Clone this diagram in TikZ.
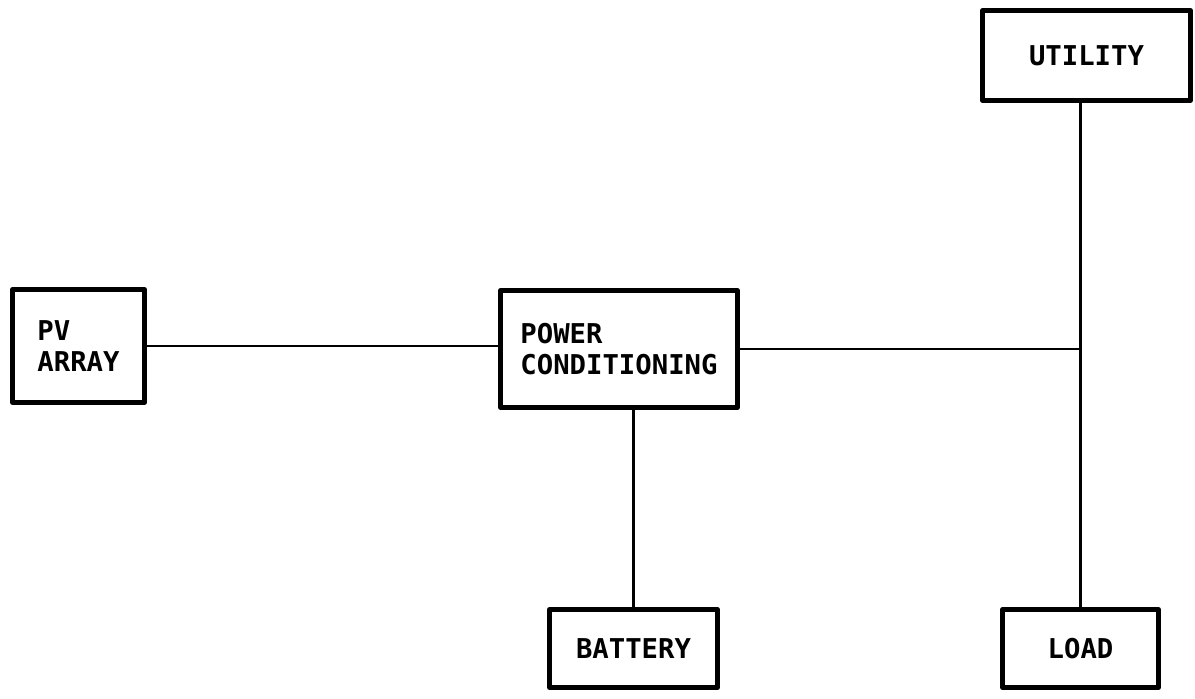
\documentclass[tikz,border=0pt]{standalone}
\usepackage{fontspec}
\setmainfont{DejaVu Sans Mono}
\usepackage{tikz}
\usetikzlibrary{positioning}

\begin{document}
\begin{tikzpicture}[
  block/.style={rectangle, draw, line width=3.4pt, line join=round, align=left, inner sep=2pt,
    font=\bfseries\fontsize{19.4}{22.5}\selectfont},
  wire/.style={line width=2pt}
]
\useasboundingbox (0,0) rectangle (29.875,17.475);
\node[block, minimum width=3.3cm, minimum height=2.825cm] (pv) at (1.9625,8.825) {PV\\ARRAY};
\node[block, minimum width=5.925cm, minimum height=2.925cm] (pc) at (15.475,8.75) {POWER\\CONDITIONING};
\node[block, minimum width=5.2cm, minimum height=2.25cm] (util) at (27.1625,16.0875) {UTILITY};
\node[block, minimum width=4.2cm, minimum height=1.95cm] (batt) at (15.8375,1.2625) {BATTERY};
\node[block, minimum width=3.9cm, minimum height=1.95cm] (load) at (27.0125,1.2625) {LOAD};
\coordinate (junc) at (load |- pc);
\draw[wire] (pv.east) -- (pv.east -| pc.west);
\draw[wire] (pc.east) -- (junc);
\draw[wire] (batt.north) -- (batt.north |- pc.south);
\draw[wire] (load.north) -- (load.north |- util.south);
\end{tikzpicture}
\end{document}
